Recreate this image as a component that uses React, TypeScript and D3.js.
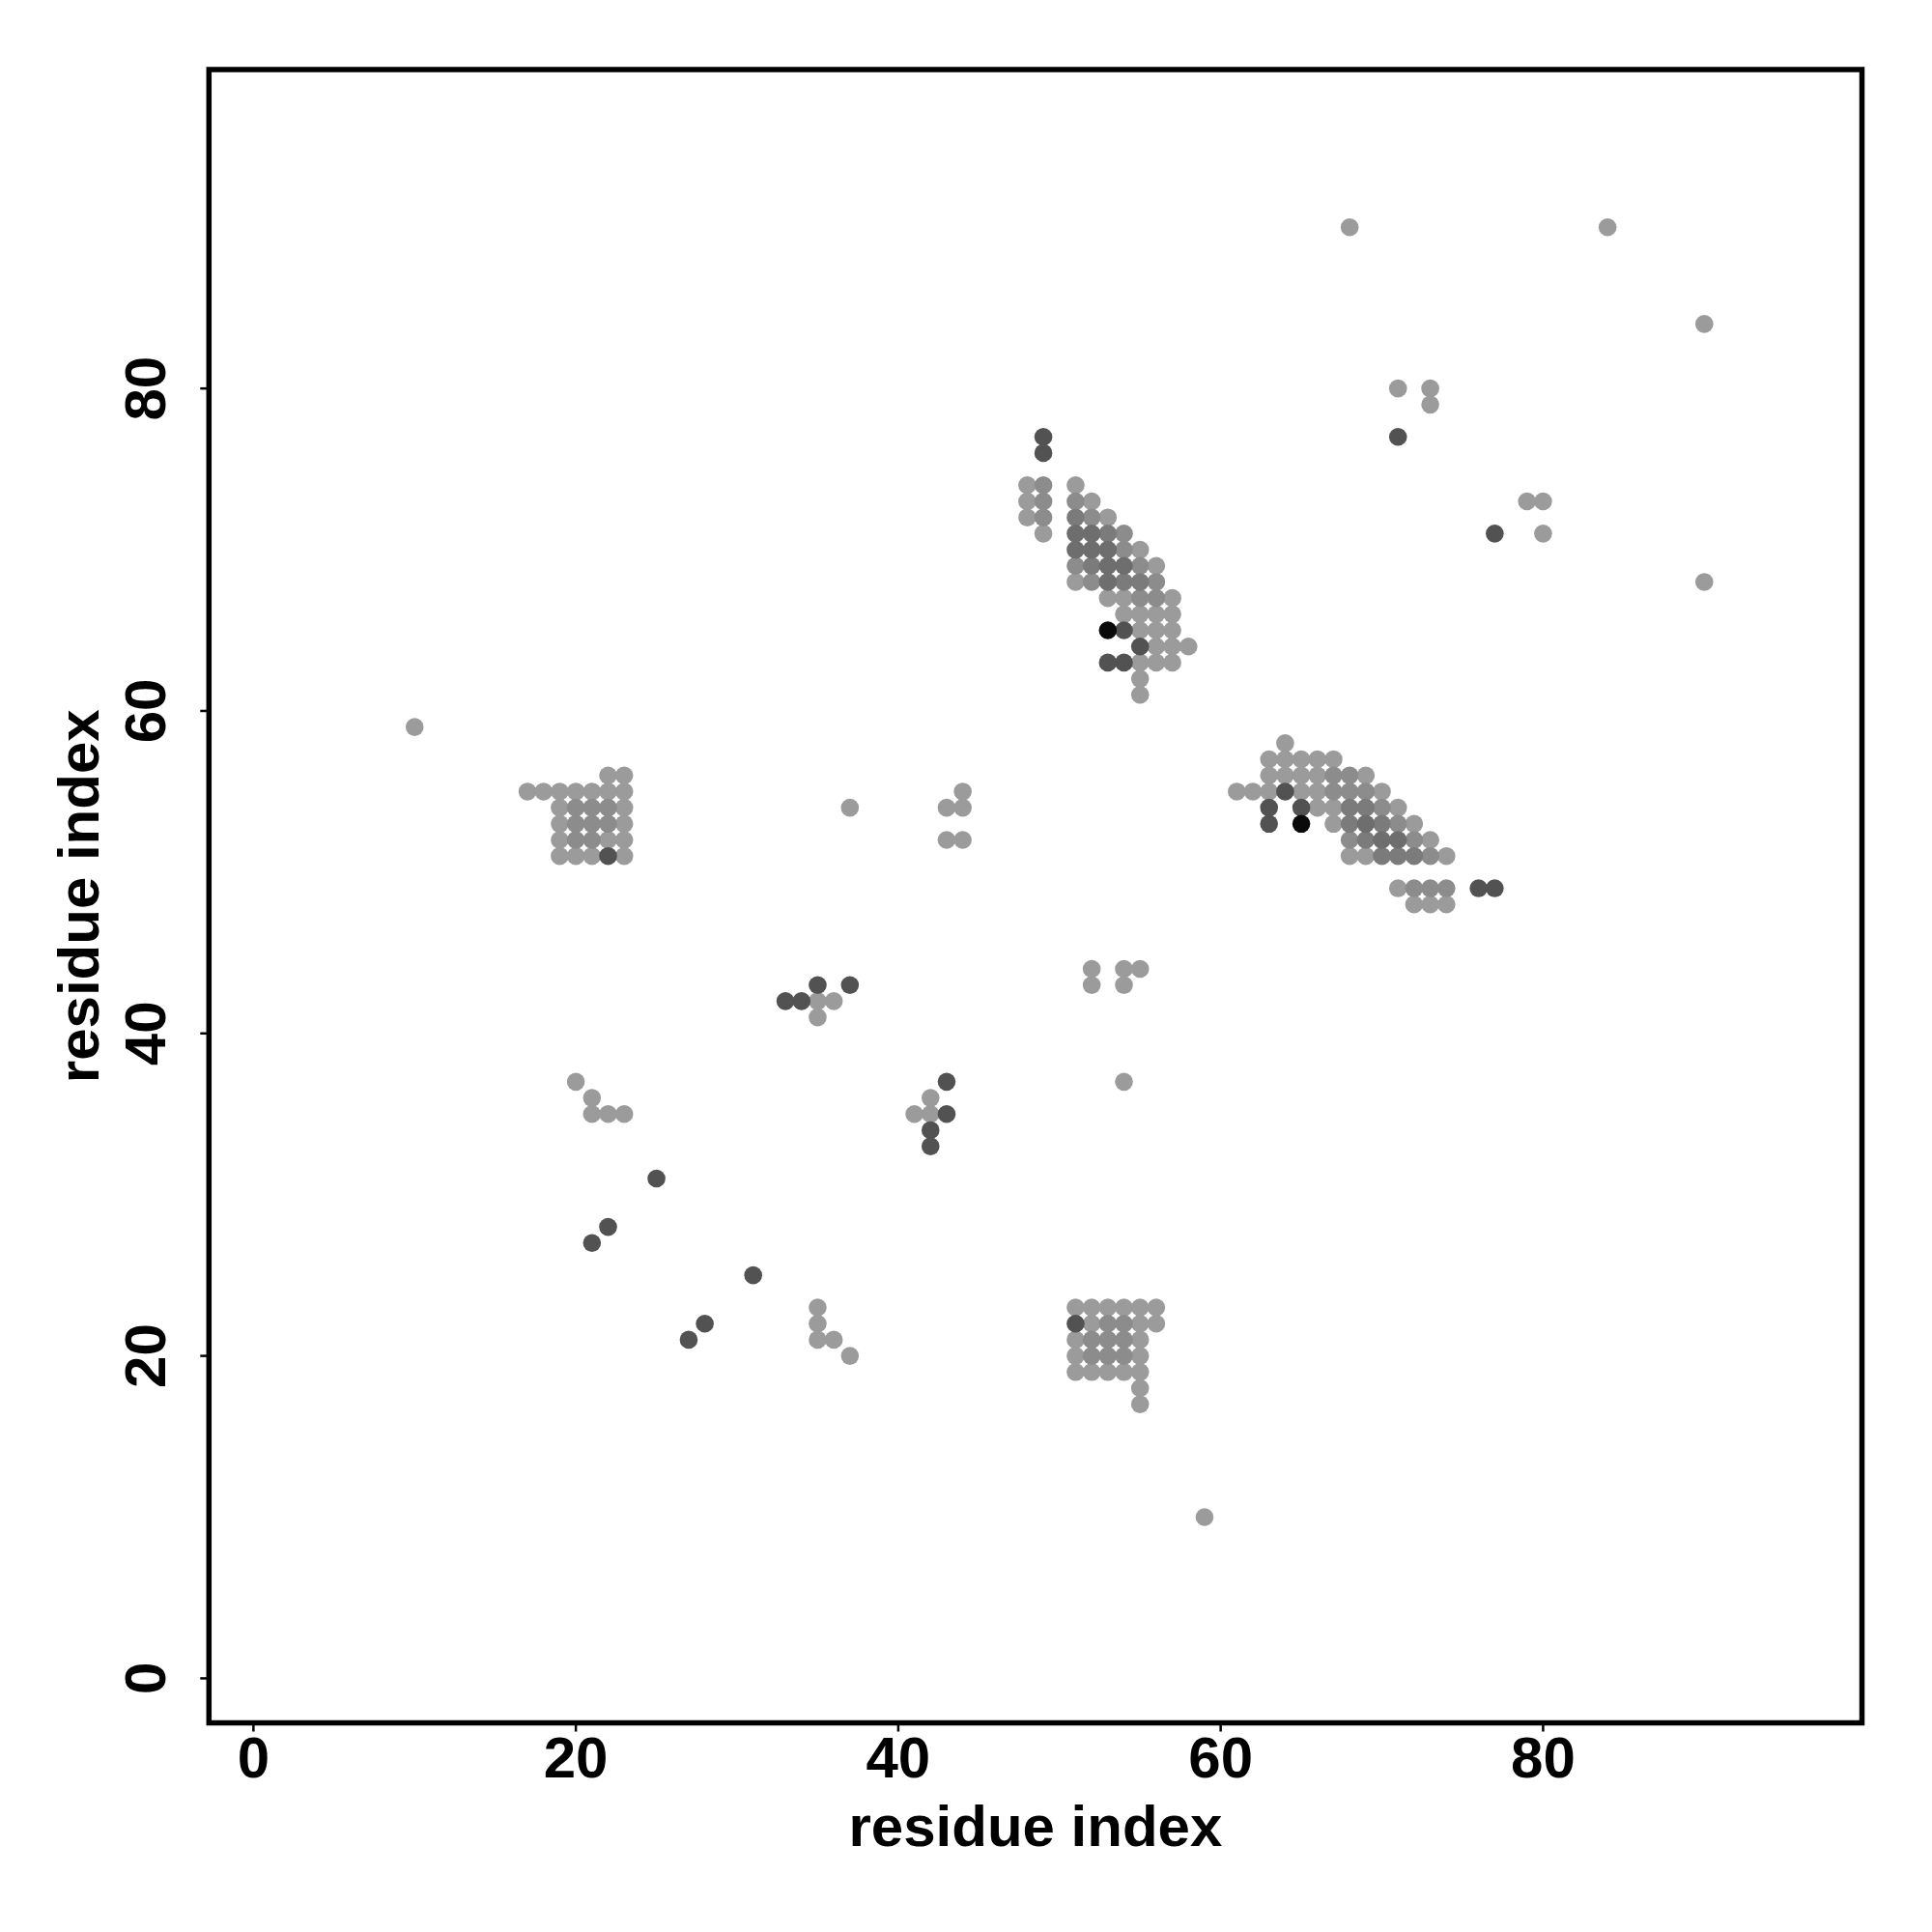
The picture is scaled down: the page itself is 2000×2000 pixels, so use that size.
import React from "react";
import * as d3 from "d3";

// Contact map points: [residue i, residue j, shade level]
const helixBlockA: [number, number, number][] = [
  [49, 77, 4], [49, 76, 4],
  [48, 74, 0], [49, 74, 1], [51, 74, 0],
  [48, 73, 0], [49, 73, 1], [51, 73, 1], [52, 73, 0],
  [48, 72, 0], [49, 72, 1], [51, 72, 2], [52, 72, 1], [53, 72, 0],
  [49, 71, 0], [51, 71, 3], [52, 71, 3], [53, 71, 2], [54, 71, 1],
  [51, 70, 3], [52, 70, 3], [53, 70, 3], [54, 70, 1], [55, 70, 0],
  [51, 69, 1], [52, 69, 2], [53, 69, 3], [54, 69, 3], [55, 69, 1], [56, 69, 0],
  [51, 68, 0], [52, 68, 1], [53, 68, 3], [54, 68, 2], [55, 68, 2], [56, 68, 1],
  [53, 67, 0], [54, 67, 0], [55, 67, 1], [56, 67, 1], [57, 67, 0],
  [54, 66, 0], [55, 66, 0], [56, 66, 0], [57, 66, 0],
  [53, 65, 5], [54, 65, 4], [55, 65, 0], [56, 65, 0], [57, 65, 0],
  [55, 64, 4], [56, 64, 0], [57, 64, 0], [58, 64, 0],
  [53, 63, 4], [54, 63, 4], [55, 63, 0], [56, 63, 0], [57, 63, 0],
  [55, 62, 0], [55, 61, 0],
];

const helixBlockB: [number, number, number][] = [
  [64, 58, 0],
  [63, 57, 0], [64, 57, 0], [65, 57, 0], [66, 57, 0], [67, 57, 0],
  [63, 56, 0], [64, 56, 0], [65, 56, 0], [66, 56, 0], [67, 56, 1], [68, 56, 1], [69, 56, 0],
  [61, 55, 0], [62, 55, 0], [63, 55, 0], [64, 55, 4], [65, 55, 0], [66, 55, 0], [67, 55, 1], [68, 55, 1], [69, 55, 1], [70, 55, 0],
  [63, 54, 4], [65, 54, 4], [66, 54, 0], [67, 54, 0], [68, 54, 2], [69, 54, 2], [70, 54, 1], [71, 54, 0],
  [63, 53, 4], [65, 53, 5], [67, 53, 0], [68, 53, 2], [69, 53, 3], [70, 53, 2], [71, 53, 1], [72, 53, 0],
  [68, 52, 1], [69, 52, 2], [70, 52, 3], [71, 52, 3], [72, 52, 1], [73, 52, 0],
  [68, 51, 0], [69, 51, 0], [70, 51, 2], [71, 51, 2], [72, 51, 2], [73, 51, 1], [74, 51, 0],
  [71, 49, 0], [72, 49, 1], [73, 49, 1], [74, 49, 1], [76, 49, 4], [77, 49, 4],
  [72, 48, 0], [73, 48, 0], [74, 48, 0],
];

const blockC: [number, number, number][] = [
  [22, 56, 0], [23, 56, 0],
  [17, 55, 0], [18, 55, 0], [19, 55, 0], [20, 55, 0], [21, 55, 0], [22, 55, 0], [23, 55, 0],
  [19, 54, 0], [20, 54, 1], [21, 54, 1], [22, 54, 1], [23, 54, 0],
  [19, 53, 0], [20, 53, 1], [21, 53, 1], [22, 53, 1], [23, 53, 0],
  [19, 52, 0], [20, 52, 1], [21, 52, 1], [22, 52, 0], [23, 52, 0],
  [19, 51, 0], [20, 51, 0], [21, 51, 0], [22, 51, 4], [23, 51, 0],
];

const blockD: [number, number, number][] = [
  [51, 23, 0], [52, 23, 0], [53, 23, 0], [54, 23, 0], [55, 23, 0], [56, 23, 0],
  [51, 22, 4], [52, 22, 0], [53, 22, 1], [54, 22, 1], [55, 22, 0], [56, 22, 0],
  [51, 21, 0], [52, 21, 1], [53, 21, 1], [54, 21, 1], [55, 21, 0],
  [51, 20, 0], [52, 20, 1], [53, 20, 1], [54, 20, 1], [55, 20, 0],
  [51, 19, 0], [52, 19, 0], [53, 19, 0], [54, 19, 0], [55, 19, 0],
  [55, 18, 0], [55, 17, 0],
];

const scattered: [number, number, number][] = [
  [68, 90, 0], [84, 90, 0], [90, 84, 0], [71, 80, 0], [73, 80, 0], [73, 79, 0], [71, 77, 4],
  [79, 73, 0], [80, 73, 0], [77, 71, 4], [80, 71, 0], [90, 68, 0], [10, 59, 0],
  [37, 54, 0], [43, 54, 0], [44, 54, 0], [44, 55, 0], [43, 52, 0], [44, 52, 0],
  [52, 44, 0], [54, 44, 0], [55, 44, 0], [52, 43, 0], [54, 43, 0], [54, 37, 0], [59, 10, 0],
  [35, 43, 4], [37, 43, 4], [33, 42, 4], [34, 42, 4], [35, 42, 0], [36, 42, 0], [35, 41, 0],
  [43, 37, 4], [42, 36, 0], [41, 35, 0], [42, 35, 0], [43, 35, 4], [42, 34, 4], [42, 33, 4],
  [20, 37, 0], [21, 36, 0], [21, 35, 0], [22, 35, 0], [23, 35, 0],
  [25, 31, 4], [22, 28, 4], [21, 27, 4], [31, 25, 4], [28, 22, 4], [27, 21, 4],
  [35, 23, 0], [35, 22, 0], [35, 21, 0], [36, 21, 0], [37, 20, 0],
];

const shadeLevels = [0, 1, 2, 3, 4, 5];
const shadeColors = ["#9b9b9b", "#8c8c8c", "#7b7b7b", "#6e6e6e", "#525252", "#0a0a0a"];
const tickValues = [0, 20, 40, 60, 80];
const xTitle = "residue index";
const yTitle = "residue index";

export default function App() {
  const W = 2000, H = 2000;
  const left = 216.3, right = 1927.5, top = 72, bottom = 1783.5;
  const domain: [number, number] = [-2.76, 99.78];
  const x = d3.scaleLinear().domain(domain).range([left, right]);
  const y = d3.scaleLinear().domain(domain).range([bottom, top]);
  const color = d3.scaleOrdinal<number, string>().domain(shadeLevels).range(shadeColors);

  const points = [...helixBlockA, ...helixBlockB, ...blockC, ...blockD, ...scattered]
    .slice()
    .sort((a, b) => a[2] - b[2]);

  const font = "'Liberation Sans', Arial, Helvetica, sans-serif";
  const fs = 60;

  return (
    <svg width={W} height={H} style={{ position: "absolute", left: 0, top: 0, background: "#fff" }}>
      <rect x={0} y={0} width={W} height={H} fill="#fff" />
      {points.map((p, i) => (
        <circle key={i} cx={x(p[0])} cy={y(p[1])} r={9.3} fill={color(p[2])} />
      ))}
      <rect x={left} y={top} width={right - left} height={bottom - top} fill="none" stroke="#000" strokeWidth={5.5} />
      {tickValues.map((t) => (
        <g key={"x" + t}>
          <line x1={x(t)} x2={x(t)} y1={bottom} y2={bottom + 9} stroke="#000" strokeWidth={2.5} />
          <text x={x(t)} y={1840} textAnchor="middle" fontFamily={font} fontWeight="bold" fontSize={fs}>{t}</text>
        </g>
      ))}
      {tickValues.map((t) => (
        <g key={"y" + t}>
          <line x1={left - 9} x2={left} y1={y(t)} y2={y(t)} stroke="#000" strokeWidth={2.5} />
          <text transform={`translate(${170.7},${y(t)}) rotate(-90)`} textAnchor="middle" fontFamily={font} fontWeight="bold" fontSize={fs}>{t}</text>
        </g>
      ))}
      <text x={(left + right) / 2} y={1911} textAnchor="middle" fontFamily={font} fontWeight="bold" fontSize={fs}>{xTitle}</text>
      <text transform={`translate(${102},${(top + bottom) / 2}) rotate(-90)`} textAnchor="middle" fontFamily={font} fontWeight="bold" fontSize={fs}>{yTitle}</text>
    </svg>
  );
}
